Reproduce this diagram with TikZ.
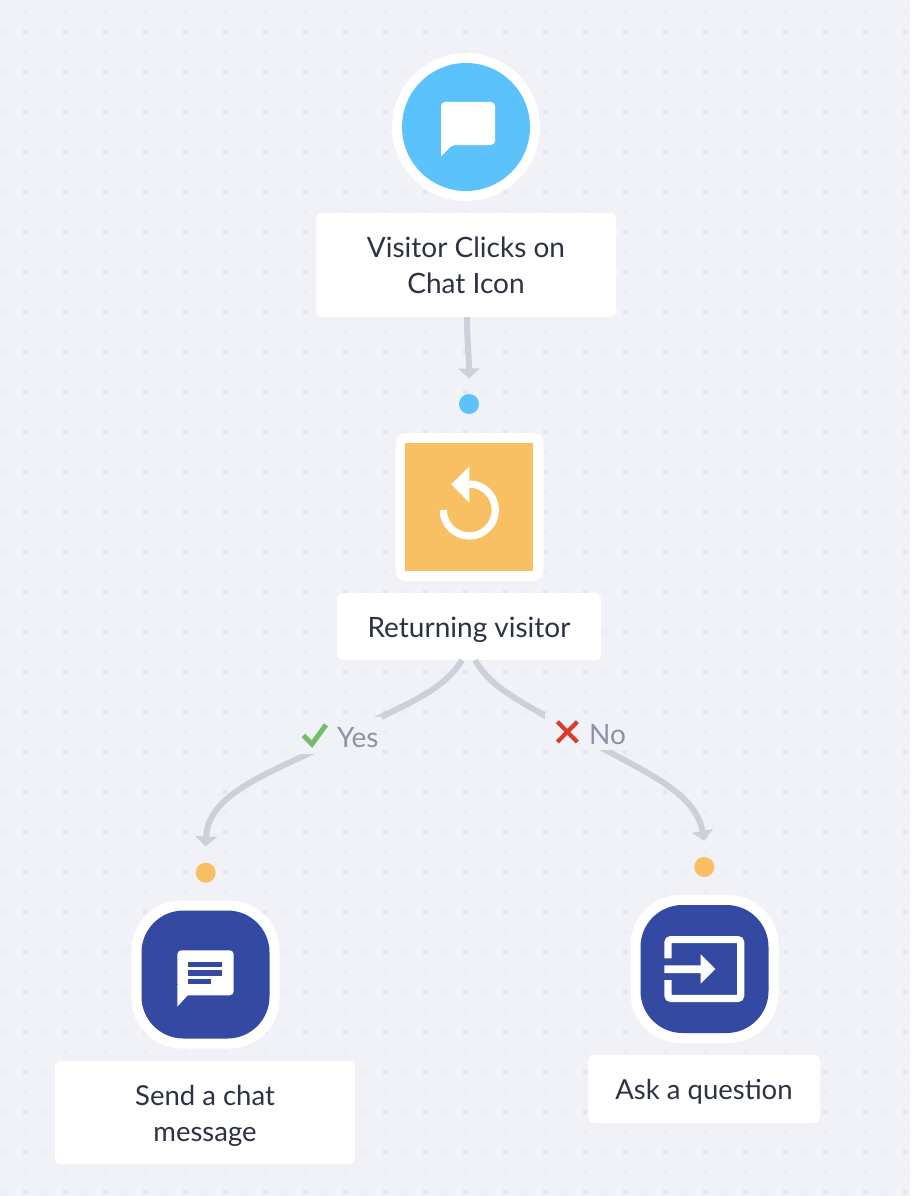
\documentclass[tikz,border=0pt]{standalone}
\usepackage{fontspec}
\setmainfont{Lato}
\usetikzlibrary{arrows.meta}
\definecolor{bgc}{HTML}{F0F2F7}
\definecolor{dotS}{HTML}{E4E6EC}
\definecolor{dotF}{HTML}{ECEEF3}
\definecolor{sky}{HTML}{5BC2FB}
\definecolor{amber}{HTML}{F8BF63}
\definecolor{navy}{HTML}{3449A1}
\definecolor{wire}{HTML}{CDD0DB}
\definecolor{ink}{HTML}{2D3242}
\definecolor{muted}{HTML}{8C93A4}
\definecolor{okc}{HTML}{72BE6A}
\definecolor{noc}{HTML}{DB3B2D}
\newcommand{\firstln}{\rule{0pt}{27.5pt}}
\newcommand{\lastln}{\rule[-5.6pt]{0pt}{5.6pt}}
\tikzset{
  x=1pt,y=-1pt,
  labelbox/.style={fill=white,rounded corners=6pt,inner sep=0pt,align=center,text=ink,font=\fontsize{28}{36}\selectfont},
  smalltext/.style={font=\fontsize{27.5}{36}\selectfont},
  oneline/.style={text height=21pt,text depth=0pt},
  pin/.style={circle,inner sep=0pt,minimum size=20pt},
  wirepath/.style={draw=wire,line width=6pt,-{Triangle[width=21pt,length=10pt]}},
  mask/.style={fill=bgc,inner sep=0pt},
  branch/.style={text=muted,inner sep=0pt,font=\fontsize{28}{36}\selectfont},
  halo/.style={fill=white,inner sep=0pt,minimum size=148pt},
  icon/.style={fill=white},
  sqcl/.style={fill=navy,inner sep=0pt,minimum size=128pt,rounded corners=42pt},
  sqclo/.style={fill=white,inner sep=0pt,minimum size=148pt,rounded corners=50pt},
}
\begin{document}
\begin{tikzpicture}
\useasboundingbox (0,0) rectangle (910,1196);
\fill[bgc] (0,0) rectangle (910,1196);
% dot grid
\foreach \i in {0,...,22}{\foreach \j in {0,...,29}{
  \fill[dotS] (25+40*\i,32+40*\j) circle[radius=2.6pt];
  \fill[dotF] (5+40*\i,32+40*\j) circle[radius=2.4pt];
  \fill[dotF] (25+40*\i,12+40*\j) circle[radius=2.4pt];
}}
% top circle
\node[circle,halo] (n1o) at (466,127) {};
\node[circle,fill=sky,inner sep=0pt,minimum size=128pt] (n1) at (466,127) {};
\fill[icon,rounded corners=4pt] (441,156) -- (441,102) -- (495,102) -- (495,145) -- (452,145) [sharp corners] -- cycle;
\fill[icon] (441,150) -- (441,156.5) -- (452,145) -- (445,145) -- cycle;
\node[labelbox,minimum width=300pt,minimum height=104pt] (lab1) at (466,265) {\firstln Visitor Clicks on\\Chat Icon\lastln};
% dots
\node[pin,fill=sky] (p1) at (469,404) {};
\node[pin,fill=amber] (p2) at (205.7,872.7) {};
\node[pin,fill=amber] (p3) at (704.3,867) {};
% square
\node[fill=white,rounded corners=10pt,inner sep=0pt,minimum size=148pt] (n2o) at (469.5,507) {};
\node[fill=amber,inner sep=0pt,minimum size=128pt] (n2) at (469,507) {};
\draw[white,line width=7.3pt] (443.3,510) arc[start angle=180,end angle=450,radius=26pt];
\fill[icon] (469.3,466.7) -- (451.3,484.3) -- (469.3,502.7) -- cycle;
\node[labelbox,oneline,minimum width=264pt,minimum height=67pt] (lab2) at (469,626.5) {Returning visitor};
% left
\node[sqclo] (n3o) at (205.5,974.5) {};
\node[sqcl] (n3) at (205.5,974.5) {};
\fill[icon,rounded corners=4pt] (177.3,985) -- (177.3,950.3) -- (233.7,950.3) -- (233.7,995.3) -- (180,995.3) -- cycle;
\fill[icon] (177.3,985) -- (177.3,1006.7) -- (187.7,995.3) -- (187.7,985) -- cycle;
\fill[navy] (188.3,961.7) rectangle (222.3,967.3);
\fill[navy] (188.3,970) rectangle (222.3,975.7);
\fill[navy] (188.3,978.7) rectangle (211.3,984.3);
\node[labelbox,smalltext,minimum width=300pt,minimum height=103pt] (lab3) at (205,1112.5) {\firstln Send a chat\\message\lastln};
% right
\node[sqclo] (n4o) at (704.5,969) {};
\node[sqcl] (n4) at (704.5,969) {};
\draw[white,line width=7.2pt,rounded corners=3pt] (667.9,958.3) -- (667.9,939.6) -- (740.7,939.6) -- (740.7,998.4) -- (667.9,998.4) -- (667.9,980);
\fill[icon] (664.3,965.3) -- (700.7,965.3) -- (700.7,954.3) -- (715.3,969) -- (700.7,983.7) -- (700.7,973) -- (664.3,973) -- cycle;
\node[labelbox,smalltext,oneline,minimum width=232pt,minimum height=68pt] (lab4) at (704,1089) {Ask a question};
% connectors
\draw[wirepath] (lab1.south) ++(1,0) .. controls +(0,25) and (468.8,350) .. ([yshift=15.3pt]p1.north);
\draw[wirepath] ([xshift=-7pt]lab2.south) .. controls +(-22,35) and (400,705) .. (340,738) .. controls (280,770) and (208,790) .. ([yshift=16pt]p2.north);
\draw[wirepath] ([xshift=6pt]lab2.south) .. controls +(18,30) and (520,700) .. (574,733) .. controls (640,770) and (695,790) .. ([yshift=16pt]p3.north);
% labels
\node[mask,minimum width=82pt,minimum height=37pt] (m1) at (340.5,735) {};
\node[mask,minimum width=82pt,minimum height=37pt] (m2) at (586,731.5) {};
\draw[okc,line width=5pt] (303.4,735.5) -- (312,744) -- (326,724.8);
\draw[noc,line width=4.2pt] (557.3,721.7) -- (577.3,742);
\draw[noc,line width=4.2pt] (577.3,721.7) -- (557.3,742);
\node[branch,anchor=base west] (yes) at (337,747) {Yes};
\node[branch,anchor=base west] (no) at (589,744) {No};
\end{tikzpicture}
\end{document}
